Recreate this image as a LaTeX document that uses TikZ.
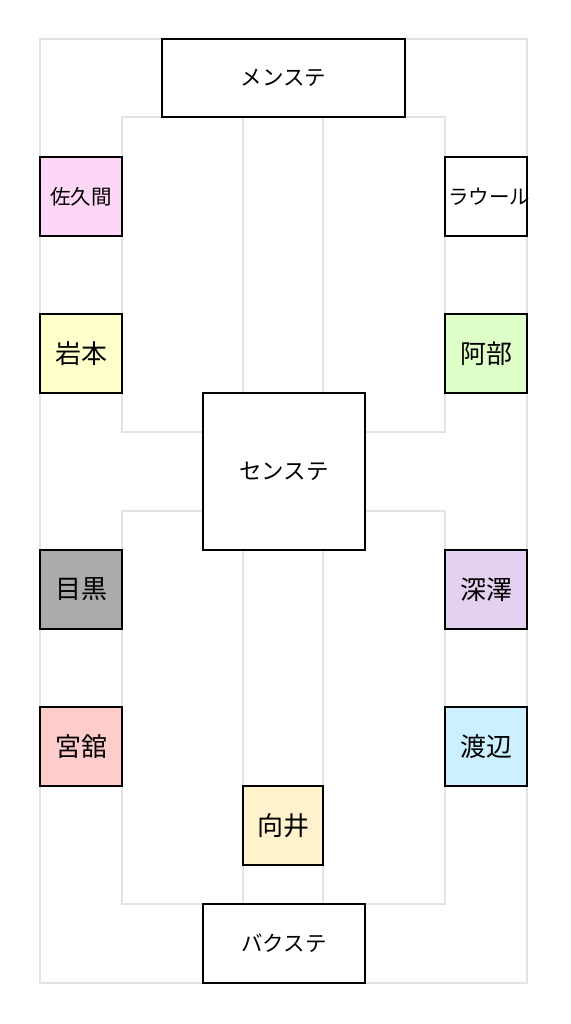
\documentclass[tikz,border=0pt]{standalone}
\usepackage{fontspec}
\setmainfont{Noto Sans CJK JP}
\definecolor{gridgray}{HTML}{E3E3E3}
\definecolor{cSakuma}{HTML}{FFD7F6}
\definecolor{cIwamoto}{HTML}{FFFFCC}
\definecolor{cAbe}{HTML}{DEFFC8}
\definecolor{cMeguro}{HTML}{ABABAB}
\definecolor{cMiyadate}{HTML}{FFCCCC}
\definecolor{cFukazawa}{HTML}{E4D0F0}
\definecolor{cWatanabe}{HTML}{CCF0FF}
\definecolor{cMukai}{HTML}{FFF2CC}
\tikzset{
  gridline/.style={draw=gridgray, line width=2pt},
  stagebox/.style={draw=black, line width=1.6pt, fill=white, inner sep=0pt, outer sep=0pt,
    font=\fontsize{21.5}{25}\selectfont},
  memberbox/.style={draw=black, line width=1.6pt, inner sep=0pt, outer sep=0pt,
    minimum width=82pt, minimum height=79pt, font=\fontsize{26}{30}\selectfont},
  smalltext/.style={font=\fontsize{20.5}{24}\selectfont}
}
\begin{document}
\begin{tikzpicture}[x=1pt,y=-1pt]
\useasboundingbox (0,0) rectangle (570,1024);
\fill[white] (0,0) rectangle (570,1024);
% floor plan lines
\draw[gridline] (40,39) rectangle (527,983);
\draw[gridline] (122,117) rectangle (445,432);
\draw[gridline] (122,511) rectangle (445,904);
\draw[gridline] (243,117) -- (243,393);
\draw[gridline] (323,117) -- (323,393);
\draw[gridline] (243,550) -- (243,904);
\draw[gridline] (323,550) -- (323,904);
% stages
\node[stagebox, minimum width=243pt, minimum height=78pt] (mens) at (283.5,78) {メンステ};
\node[stagebox, minimum width=162pt, minimum height=157pt, font=\fontsize{22.5}{26}\selectfont] (cens) at (284,471.5) {センステ};
\node[stagebox, minimum width=162pt, minimum height=79pt] (backs) at (284,943.5) {バクステ};
% members
\node[memberbox, fill=cSakuma, smalltext] (sakuma) at (81,196.5) {佐久間};
\node[memberbox, fill=cIwamoto] (iwamoto) at (81,353.5) {岩本};
\node[memberbox, fill=cMeguro] (meguro) at (81,589.5) {目黒};
\node[memberbox, fill=cMiyadate] (miyadate) at (81,746.5) {宮舘};
\node[memberbox, fill=white, smalltext] (raul) at (486,196.5) {\makebox[0pt]{\hspace{6pt}ラウール}};
\node[memberbox, fill=cAbe] (abe) at (486,353.5) {阿部};
\node[memberbox, fill=cFukazawa] (fukazawa) at (486,589.5) {深澤};
\node[memberbox, fill=cWatanabe] (watanabe) at (486,746.5) {渡辺};
\node[memberbox, fill=cMukai, minimum width=80pt] (mukai) at (283,825.5) {向井};
\end{tikzpicture}
\end{document}
